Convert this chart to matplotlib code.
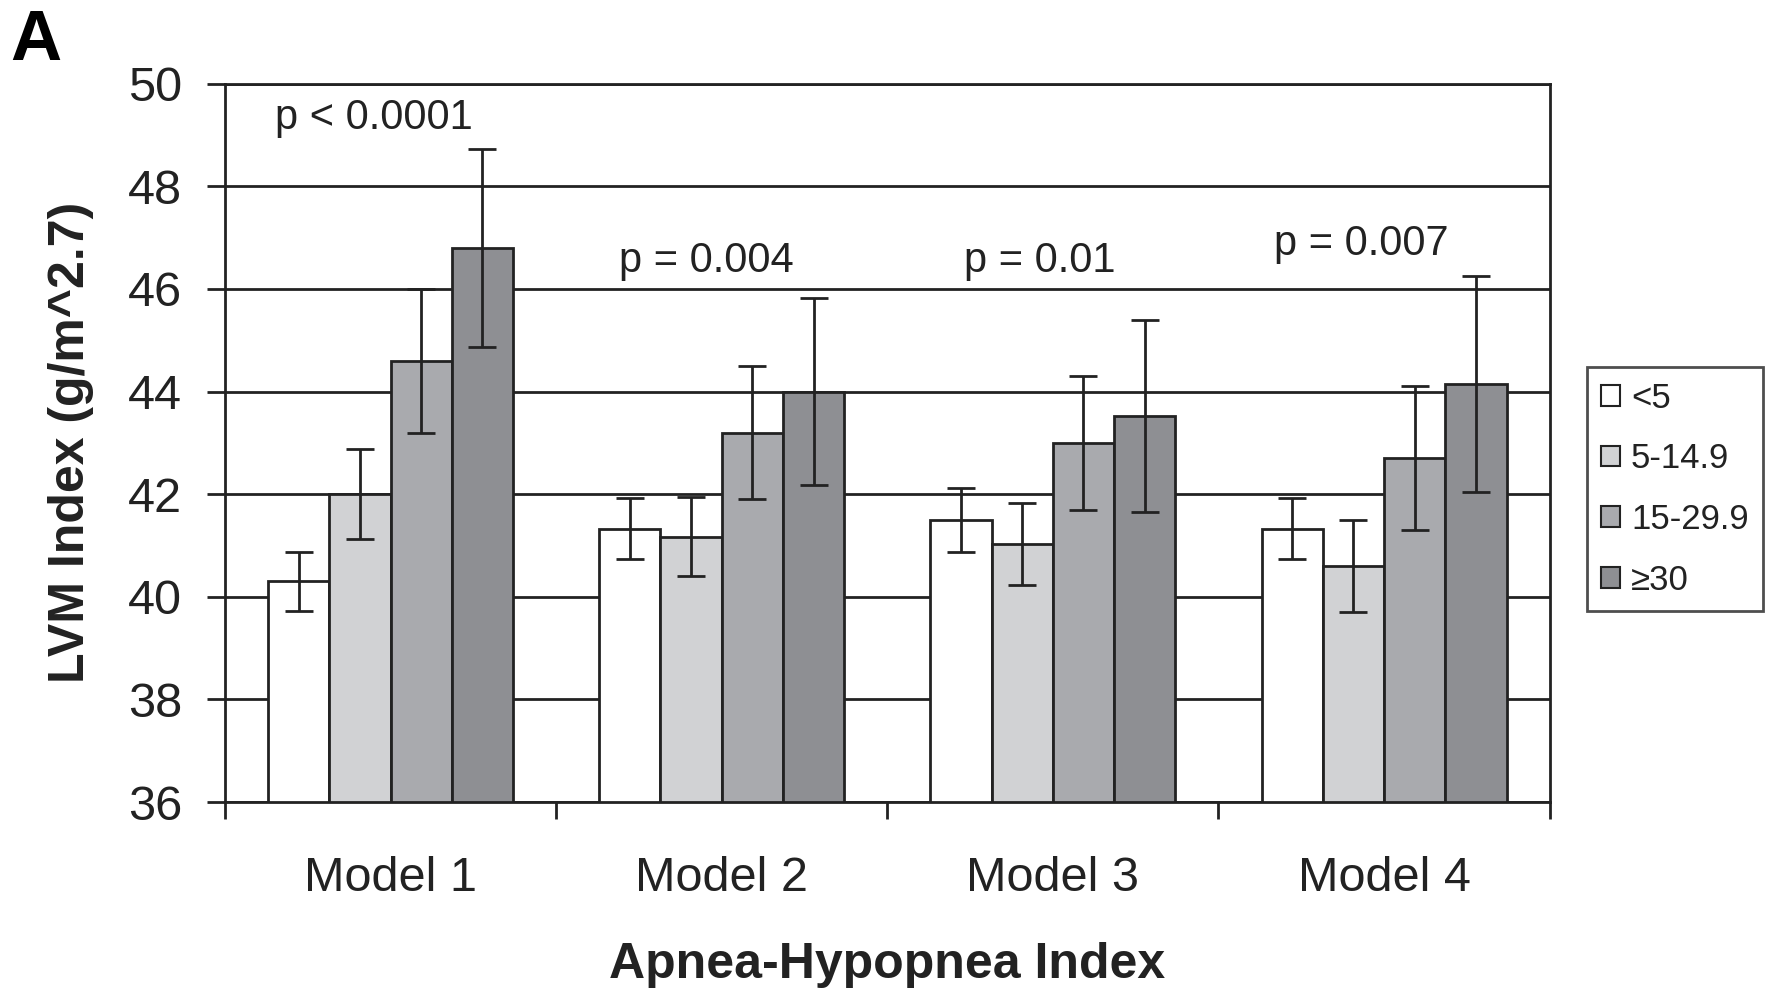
import numpy as np
import matplotlib
matplotlib.use("Agg")
import matplotlib.pyplot as plt
from matplotlib.patches import Patch

plt.rcParams['font.family'] = ['Liberation Sans', 'DejaVu Sans']

models = ['Model 1', 'Model 2', 'Model 3', 'Model 4']
ahi_groups = ['<5', '5-14.9', '15-29.9', '\u226530']

# LVM index means per AHI group (rows = groups, cols = models)
lvm_mean = [
    [40.3, 41.33, 41.5, 41.33],
    [42.0, 41.17, 41.03, 40.6],
    [44.6, 43.2, 43.0, 42.7],
    [46.8, 44.0, 43.52, 44.15],
]
lvm_err = [
    [0.58, 0.59, 0.62, 0.59],
    [0.88, 0.77, 0.8, 0.9],
    [1.4, 1.3, 1.3, 1.4],
    [1.93, 1.82, 1.87, 2.1],
]
p_labels = ['p < 0.0001', 'p = 0.004', 'p = 0.01', 'p = 0.007']
p_pos = [(-0.05, 49.33), (0.955, 46.55), (1.96, 46.55), (2.93, 46.87)]

colors = ['#ffffff', '#d1d2d4', '#a9aaae', '#8e8f93']

fig = plt.figure(figsize=(17.71, 9.89), dpi=100)
ax = fig.add_axes([0.127, 0.189, 0.748, 0.7265])

x = np.arange(len(models))
w = 0.185
for i in range(len(ahi_groups)):
    xs = x + (i - 1.5) * w
    ax.bar(xs, np.array(lvm_mean[i]) - 36, bottom=36, width=w, color=colors[i],
           edgecolor='#222222', linewidth=2, zorder=3)
    ax.errorbar(xs, lvm_mean[i], yerr=lvm_err[i], fmt='none', ecolor='#222222',
                elinewidth=2, capsize=10, capthick=2, zorder=4)

for s, (px, py) in zip(p_labels, p_pos):
    ax.text(px, py, s, ha='center', va='center', fontsize=30, color='#222222', zorder=5)

ax.set_ylim(36, 50)
ax.set_xlim(-0.5, 3.5)
ax.set_yticks(np.arange(36, 51, 2))
ax.yaxis.grid(True, color='#222222', linewidth=2)
ax.set_axisbelow(True)

# boundaries get the tick marks, centers get the labels
ax.set_xticks(np.arange(-0.5, 4, 1))
ax.set_xticklabels([])
ax.set_xticks(x, minor=True)
ax.set_xticklabels(models, minor=True, fontsize=35, color='#222222')
ax.tick_params(axis='x', which='major', direction='out', length=12, width=2, color='#222222')
ax.tick_params(axis='x', which='minor', length=0, pad=39)
ax.tick_params(axis='y', direction='out', length=13, width=2, color='#222222',
               labelsize=35, labelcolor='#222222', pad=18)

for sp in ax.spines.values():
    sp.set_linewidth(2)
    sp.set_color('#222222')

ax.set_ylabel('LVM Index (g/m^2.7)', fontsize=36, fontweight='bold', color='#222222', labelpad=24)
ax.set_xlabel('Apnea-Hypopnea Index', fontsize=36, fontweight='bold', color='#222222', labelpad=29)

fig.text(0.02, 0.958, 'A', fontsize=51, fontweight='bold', ha='center', va='center')

handles = [Patch(facecolor=c, edgecolor='#222222', linewidth=1.5) for c in colors]
leg = fig.legend(handles, ahi_groups, loc='upper left', bbox_to_anchor=(0.896, 0.629),
                 fontsize=25, frameon=True, fancybox=False, handlelength=0.55,
                 handleheight=0.55, handletextpad=0.3, labelspacing=0.8,
                 borderpad=0.42, borderaxespad=0)
leg.get_frame().set_edgecolor('#222222')
leg.get_frame().set_linewidth(2)
for t in leg.get_texts():
    t.set_color('#222222')

fig.savefig('out.png', dpi=100)
